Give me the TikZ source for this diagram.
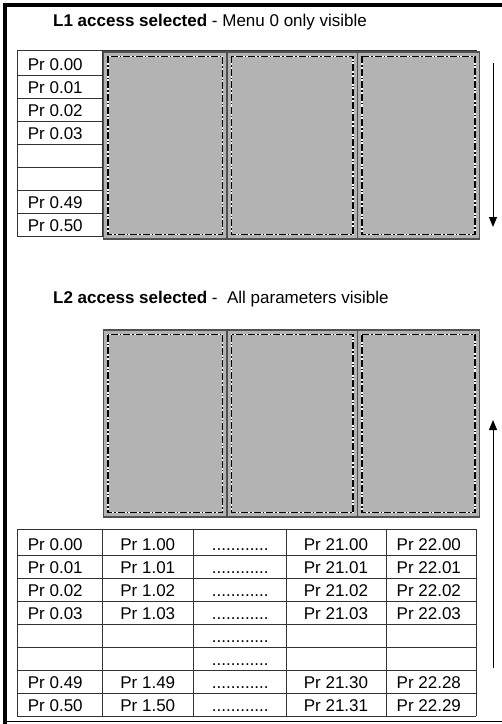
\documentclass[tikz,border=0pt]{standalone}
\usepackage{fontspec}
\setmainfont{Liberation Sans}
\usetikzlibrary{arrows.meta}
\definecolor{panelgrey}{HTML}{B3B3B3}
\definecolor{edgegrey}{HTML}{505050}
\definecolor{gridcol}{HTML}{333333}
\begin{document}
\begin{tikzpicture}[x=1bp,y=-1bp,
  txt/.style={font=\fontsize{17bp}{20bp}\selectfont, inner sep=0pt, anchor=base},
  panel/.style={fill=panelgrey, draw=edgegrey, line width=1.5bp},
  innerwhite/.style={draw=white, line width=1.8bp},
  innerdash/.style={draw=black, line width=1.2bp, dash pattern=on 7bp off 2bp on 1.5bp off 2bp},
  gridline/.style={draw=gridcol, line width=0.9bp},
  framebar/.style={line width=4bp, line join=miter},
  arr/.style={line width=1bp, -{Triangle[width=8bp,length=10bp]}}]
\useasboundingbox (0,0) rectangle (502,724);
\fill[white] (0,0) rectangle (502,724);

% frame
\draw[framebar] (5,724) -- (5,5) -- (502,5);
\draw[line width=1.5bp] (3,721.5) -- (502,721.5);

% titles
\node[txt, anchor=base west] (title1) at (53,27) {\textbf{L1 access selected} - Menu 0 only visible};
\node[txt, anchor=base west] (title2) at (53,303) {\textbf{L2 access selected} -\ \ All parameters visible};

% top table grid
\foreach \y in {50,75.3,98.3,121.3,144.3,167.3,190.3,213.3,236}
  \draw[gridline] (17,\y) -- (476,\y);
\foreach \x in {17,102,193,286,386,476}
  \draw[gridline] (\x,50) -- (\x,236);

% top table texts
\foreach \yb/\t [count=\r] in {75.3/Pr 0.00,98.3/Pr 0.01,121.3/Pr 0.02,144.3/Pr 0.03,213.3/Pr 0.49,236/Pr 0.50}
  \node[txt] (a-\r) at (55.3,\yb-4.8) {\t};

% top panels
\foreach \xa/\xb [count=\i] in {103.5/227,227/357.5,357.5/479.5}{
  \path[panel] (\xa,52) rectangle (\xb,239);
  \draw[innerwhite] (\xa+4.5,56.5) rectangle (\xb-4.5,234.5);
  \draw[innerdash] (\xa+4.5,56.5) rectangle (\xb-4.5,234.5);
}

% bottom panels
\foreach \xa/\xb [count=\i] in {103.5/227,227/357.5,357.5/479.5}{
  \path[panel] (\xa,330) rectangle (\xb,517);
  \draw[innerwhite] (\xa+4.5,334.5) rectangle (\xb-4.5,512.5);
  \draw[innerdash] (\xa+4.5,334.5) rectangle (\xb-4.5,512.5);
}

% bottom table grid
\foreach \y in {529.3,555,578,601,624,647,670,693,716}
  \draw[gridline] (17,\y) -- (476,\y);
\foreach \x in {17,102,193,286,386,476}
  \draw[gridline] (\x,529.3) -- (\x,716);

% bottom table texts
\foreach \yb/\ta/\tb/\td/\te [count=\r] in {
  555/Pr 0.00/Pr 1.00/Pr 21.00/Pr 22.00,
  578/Pr 0.01/Pr 1.01/Pr 21.01/Pr 22.01,
  601/Pr 0.02/Pr 1.02/Pr 21.02/Pr 22.02,
  624/Pr 0.03/Pr 1.03/Pr 21.03/Pr 22.03,
  693/Pr 0.49/Pr 1.49/Pr 21.30/Pr 22.28,
  716/Pr 0.50/Pr 1.50/Pr 21.31/Pr 22.29}{
  \node[txt] (b1-\r) at (55.3,\yb-4.8) {\ta};
  \node[txt] (b2-\r) at (147.8,\yb-4.8) {\tb};
  \node[txt] (b4-\r) at (336,\yb-4.8) {\td};
  \node[txt] (b5-\r) at (428.8,\yb-4.8) {\te};
}
\foreach \yb [count=\r] in {555,578,601,624,647,670,693,716}
  \node[txt] (b3-\r) at (240.3,\yb-4.8) {............};

% arrows
\coordinate (downS) at (493,63);
\coordinate (downE) at (493,227);
\coordinate (upS) at (493,668);
\coordinate (upE) at (493,420);
\draw[arr] (downS) -- (downE);
\draw[arr] (upS) -- (upE);
\end{tikzpicture}
\end{document}
